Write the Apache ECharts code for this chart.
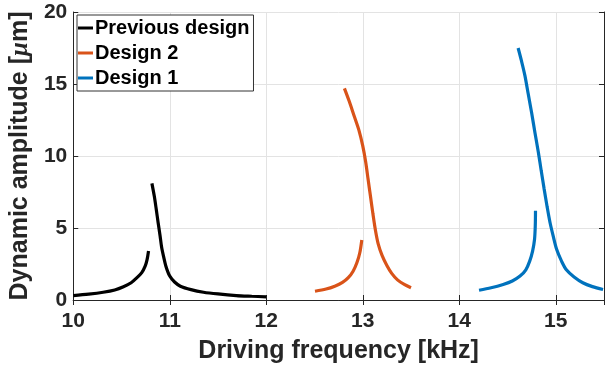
<!DOCTYPE html>
<html>
<head>
<meta charset="utf-8">
<script src="https://cdn.jsdelivr.net/npm/echarts@6/dist/echarts.min.js"></script>
<style>
  html, body { margin: 0; padding: 0; background: #fff; }
  #chart { width: 613px; height: 374px; }
</style>
</head>
<body>
<div id="chart"></div>
<script>
  // values, [frequency kHz, amplitude um]
  var prevLow = [[10.0, 0.31], [10.16, 0.41], [10.31, 0.54], [10.43, 0.7], [10.52, 0.92], [10.6, 1.2], [10.66, 1.55], [10.71, 1.9], [10.745, 2.35], [10.765, 2.8], [10.78, 3.4]]
  var prevHigh = [[10.815, 8.1], [10.84, 7.2], [10.86, 6.3], [10.88, 5.35], [10.9, 4.45], [10.915, 3.7], [10.935, 3.05], [10.96, 2.35], [11.0, 1.66], [11.05, 1.25], [11.11, 0.96], [11.22, 0.72], [11.35, 0.54], [11.5, 0.42], [11.69, 0.31], [11.85, 0.26], [12.0, 0.22]]
  var d2Low = [[12.505, 0.61], [12.62, 0.76], [12.71, 0.96], [12.79, 1.22], [12.85, 1.55], [12.9, 2.0], [12.94, 2.6], [12.97, 3.3], [12.99, 4.17]]
  var d2High = [[12.81, 14.7], [12.86, 13.8], [12.91, 12.8], [12.96, 11.8], [13.0, 10.7], [13.03, 9.6], [13.055, 8.4], [13.08, 7.2], [13.105, 6.0], [13.13, 4.9], [13.16, 3.9], [13.2, 3.1], [13.25, 2.4], [13.3, 1.85], [13.36, 1.4], [13.43, 1.08], [13.5, 0.85]]
  var d1Low = [[14.205, 0.68], [14.33, 0.85], [14.455, 1.08], [14.55, 1.32], [14.63, 1.66], [14.69, 2.1], [14.73, 2.7], [14.76, 3.4], [14.78, 4.2], [14.788, 5.2], [14.79, 6.2]]
  var d1High = [[14.61, 17.5], [14.645, 16.6], [14.68, 15.6], [14.715, 14.3], [14.75, 13.0], [14.785, 11.6], [14.82, 10.25], [14.85, 8.95], [14.88, 7.7], [14.91, 6.5], [14.94, 5.4], [14.975, 4.4], [15.01, 3.5], [15.06, 2.7], [15.11, 2.1], [15.19, 1.6], [15.28, 1.2], [15.38, 0.93], [15.49, 0.73]]

  var xTicks = [10, 11, 12, 13, 14, 15]
  var yTicks = [0, 5, 10, 15, 20]
  var names = ['Previous design', 'Design 2', 'Design 1']
  var colors = ['#000000', '#D95319', '#0072BD']

  var chart = echarts.init(document.getElementById('chart'))

  function branch(name, color, data) {
    return {
      name: name,
      type: 'line',
      data: data,
      smooth: 0.3,
      showSymbol: false,
      symbol: 'none',
      lineStyle: { color: color, width: 3.2 },
      itemStyle: { color: color },
      z: 3
    }
  }

  var tickFont = { color: '#262626', fontSize: 21, fontWeight: 'bold', fontFamily: 'Liberation Sans' }

  var option = {
    animation: false,
    grid: { left: 73, top: 12, right: 9, bottom: 74 },
    legend: {
      data: names,
      orient: 'vertical',
      left: 77,
      top: 15,
      icon: 'rect',
      itemWidth: 15,
      itemHeight: 3,
      itemGap: 5,
      padding: [3, 4, 3, 1],
      borderColor: '#333',
      borderWidth: 1,
      backgroundColor: '#fff',
      textStyle: { color: '#000', fontSize: 20, lineHeight: 20, fontWeight: 'bold', fontFamily: 'Liberation Sans', padding: [0, 0, 0, -3] }
    },
    xAxis: [{
      type: 'value',
      min: 10,
      max: 15.5,
      interval: 1,
      name: 'Driving frequency [kHz]',
      nameLocation: 'middle',
      nameGap: 39,
      nameTextStyle: { color: '#262626', fontSize: 25, fontWeight: 'bold', fontFamily: 'Liberation Sans' },
      axisLine: { lineStyle: { color: '#262626', width: 1 } },
      axisTick: { inside: true, length: 5, lineStyle: { color: '#262626' } },
      axisLabel: Object.assign({ margin: 11, showMaxLabel: false,
        formatter: function (v) { return xTicks.indexOf(v) >= 0 ? String(v) : '' } }, tickFont),
      splitLine: { show: true, lineStyle: { color: '#e3e3e3', width: 1 } }
    }, {
      type: 'value', position: 'top', min: 10, max: 15.5, interval: 1,
      axisLine: { show: true, lineStyle: { color: '#262626' } },
      axisTick: { inside: true, length: 5, lineStyle: { color: '#262626' } },
      axisLabel: { show: false }, splitLine: { show: false }
    }],
    yAxis: [{
      type: 'value',
      min: 0,
      max: 20,
      interval: 5,
      name: '{b|Dynamic amplitude [}{i|μ}{b|m]}',
      nameLocation: 'middle',
      nameGap: 30,
      nameTextStyle: {
        rich: {
          b: { color: '#262626', fontSize: 25, fontWeight: 'bold', fontFamily: 'Liberation Sans' },
          i: { color: '#262626', fontSize: 25, fontWeight: 'bold', fontStyle: 'italic', fontFamily: 'Liberation Serif' }
        }
      },
      axisLine: { show: true, lineStyle: { color: '#262626', width: 1 } },
      axisTick: { show: true, inside: true, length: 5, lineStyle: { color: '#262626' } },
      axisLabel: Object.assign({ margin: 6,
        formatter: function (v) { return yTicks.indexOf(v) >= 0 ? String(v) : '' } }, tickFont),
      splitLine: { show: true, lineStyle: { color: '#e3e3e3', width: 1 } }
    }, {
      type: 'value', position: 'right', min: 0, max: 20, interval: 5,
      axisLine: { show: true, lineStyle: { color: '#262626' } },
      axisTick: { show: true, inside: true, length: 5, lineStyle: { color: '#262626' } },
      axisLabel: { show: false }, splitLine: { show: false }
    }],
    series: [
      branch(names[0], colors[0], prevLow),
      branch(names[0], colors[0], prevHigh),
      branch(names[1], colors[1], d2Low),
      branch(names[1], colors[1], d2High),
      branch(names[2], colors[2], d1Low),
      branch(names[2], colors[2], d1High)
    ]
  }

  chart.setOption(option)
</script>
</body>
</html>
